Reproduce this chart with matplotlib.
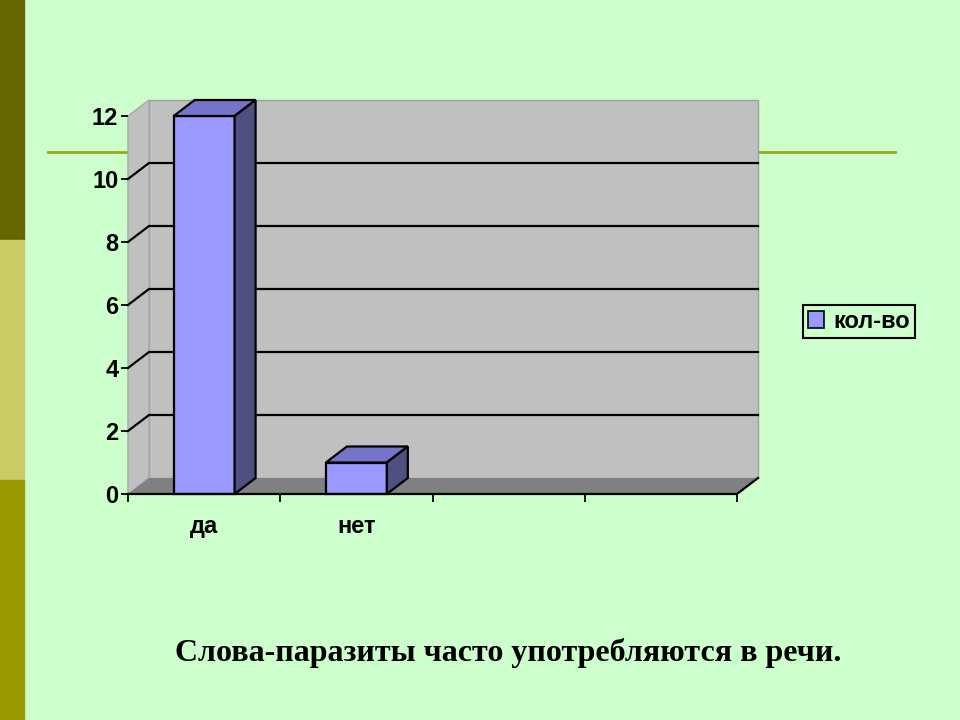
import matplotlib
matplotlib.use("Agg")
import matplotlib.pyplot as plt
from matplotlib.patches import Polygon, Rectangle, Patch
from matplotlib.lines import Line2D

categories = ["да", "нет", "", ""]
values = [12, 1, None, None]
series_name = "кол-во"
yticks = [0, 2, 4, 6, 8, 10, 12]
title = "Слова-паразиты часто употребляются в речи."

W, H = 960, 720
fig = plt.figure(figsize=(W / 100, H / 100), dpi=100)
fig.patch.set_facecolor("#CCFFCC")

# left decorative stripe
for y0, y1, c in [(0, 240, "#666600"), (240, 480, "#CCCC66"), (480, 720, "#999900")]:
    fig.add_artist(Rectangle((0, 1 - y1 / H), 24 / W, (y1 - y0) / H,
                             transform=fig.transFigure, color=c, zorder=0))
# olive rule
fig.add_artist(Line2D([48 / W, 895 / W], [1 - 152 / H, 1 - 152 / H],
                      transform=fig.transFigure, color="#99AA11", lw=2, zorder=0))

left, right, bottom_px, top_px = 128, 737, 494, 116
ax = fig.add_axes([left / W, 1 - bottom_px / H, (right - left) / W, (bottom_px - top_px) / H])
ax.set_facecolor("none")
ncat = len(categories)
ymax = 12
ax.set_xlim(0, ncat)
ax.set_ylim(0, ymax)
dx = 21 / (right - left) * ncat
dy = 16 / (bottom_px - top_px) * ymax

wall = "#C0C0C0"
ax.add_patch(Polygon([(dx, dy), (ncat + dx, dy), (ncat + dx, ymax + dy), (dx, ymax + dy)],
                     closed=True, fc=wall, ec="#A0A0A0", lw=1, clip_on=False, zorder=1))
ax.add_patch(Polygon([(0, 0), (dx, dy), (dx, ymax + dy), (0, ymax)],
                     closed=True, fc=wall, ec="#A8A8A8", lw=1, clip_on=False, zorder=1))
ax.add_patch(Polygon([(0, 0), (ncat, 0), (ncat + dx, dy), (dx, dy)],
                     closed=True, fc="#808080", ec="none", clip_on=False, zorder=1))
for v in yticks[1:-1]:
    ax.plot([0, dx, ncat + dx], [v, v + dy, v + dy], color="black", lw=1.6,
            clip_on=False, zorder=2, solid_joinstyle="miter")

front, topc, side = "#9999FF", "#7474CA", "#4F4F82"
bw = 0.4
for i, v in enumerate(values):
    if v is None:
        continue
    x0 = i + 0.5 - bw / 2
    x1 = x0 + bw
    kw = dict(closed=True, ec="black", lw=1.6, clip_on=False, zorder=4, joinstyle="miter")
    ax.add_patch(Polygon([(x0, 0), (x1, 0), (x1, v), (x0, v)], fc=front, **kw))
    ax.add_patch(Polygon([(x0, v), (x1, v), (x1 + dx, v + dy), (x0 + dx, v + dy)], fc=topc, **kw))
    ax.add_patch(Polygon([(x1, 0), (x1 + dx, dy), (x1 + dx, v + dy), (x1, v)], fc=side, **kw))

# axes lines
ax.plot([0, ncat, ncat + dx], [0, 0, dy], color="black", lw=1.6, clip_on=False, zorder=5)
for s in ["top", "right", "bottom", "left"]:
    ax.spines[s].set_visible(False)

ax.set_yticks(yticks)
ax.set_yticklabels([str(t) for t in yticks])
ax.tick_params(axis="y", direction="out", length=5, width=1.3, color="black", pad=2,
               labelsize=17)
ax.set_xticks(range(ncat + 1))
ax.set_xticklabels([""] * (ncat + 1))
ax.set_xticks([i + 0.5 for i in range(ncat)], minor=True)
ax.set_xticklabels(categories, minor=True)
ax.tick_params(axis="x", which="major", direction="out", length=6, width=1.3, color="black")
ax.tick_params(axis="x", which="minor", length=0, pad=15, labelsize=17)
for lab in ax.get_yticklabels() + ax.get_xticklabels(minor=True):
    lab.set_fontfamily("Liberation Sans")
    lab.set_fontweight("bold")

leg = fig.legend(handles=[Patch(fc=front, ec="black", lw=1.2, label=series_name)],
                 loc="center", bbox_to_anchor=(859 / W, 1 - 321.5 / H),
                 frameon=True, fancybox=False, edgecolor="black", facecolor="#CCFFCC",
                 framealpha=1, prop={"family": "Liberation Sans", "size": 17, "weight": "bold"},
                 handlelength=0.7, handleheight=0.7, handletextpad=0.4,
                 borderpad=0.2, borderaxespad=0)
leg.get_frame().set_linewidth(1.5)

fig.text(508 / W, 1 - 653 / H, title, ha="center", va="center",
         family="Liberation Serif", weight="bold", fontsize=23)

fig.savefig("out.png", dpi=100, facecolor=fig.get_facecolor())
